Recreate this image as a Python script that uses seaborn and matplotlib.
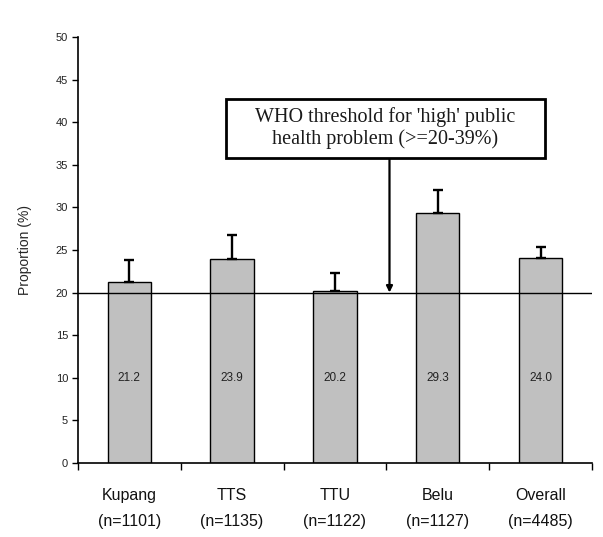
import matplotlib
matplotlib.use("Agg")
import matplotlib.pyplot as plt
from matplotlib.patches import Rectangle
import seaborn as sns
import pandas as pd
import numpy as np

# Prevalence by district with upper confidence margin
districts = ["Kupang", "TTS", "TTU", "Belu", "Overall"]
sample_sizes = [1101, 1135, 1122, 1127, 4485]
proportions = [21.2, 23.9, 20.2, 29.3, 24.0]
upper_error = [2.6, 2.8, 2.1, 2.8, 1.3]
threshold = 20
y_ticks = list(range(0, 55, 5))

labels = [f"{d}\n(n={n})" for d, n in zip(districts, sample_sizes)]
df = pd.DataFrame({"group": labels, "proportion": proportions})

sns.set_theme(style="white")
plt.rcParams["font.family"] = ["Liberation Sans", "DejaVu Sans"]

fig = plt.figure(figsize=(6.03, 5.37), dpi=100)
ax = fig.add_axes([0.129, 0.138, 0.853, 0.793])

sns.barplot(data=df, x="group", y="proportion", color="#c0c0c0",
            edgecolor="black", linewidth=1.0, width=0.42,
            saturation=1, errorbar=None, ax=ax)

# upper-only error bars
xpos = np.arange(len(proportions))
ax.errorbar(xpos, proportions, yerr=[np.zeros(len(upper_error)), upper_error],
            fmt="none", ecolor="black", elinewidth=1.7, capsize=3.5,
            capthick=1.7, zorder=3)

# value labels inside bars
for x, v in zip(xpos, proportions):
    ax.text(x, 10, f"{v:.1f}", ha="center", va="center",
            fontsize=8.5, color="#222222")

# threshold line
ax.axhline(threshold, color="black", lw=1.0, zorder=2.5)

# callout box with arrow to the threshold
ax.add_patch(Rectangle((0.94, 35.8), 3.1, 6.9, fc="white", ec="black",
                       lw=2.0, zorder=4))
ax.text(2.49, 39.3, "WHO threshold for 'high' public\nhealth problem (>=20-39%)",
        ha="center", va="center", fontsize=14.5, linespacing=1.2,
        family=["Liberation Serif", "DejaVu Serif"], color="#1a1a1a", zorder=5)
ax.annotate("", xy=(2.53, threshold), xytext=(2.53, 35.8),
            arrowprops=dict(arrowstyle="-|>", color="black", lw=1.6,
                            mutation_scale=9, shrinkA=0, shrinkB=0))

ax.set_xlim(-0.5, len(districts) - 0.5)
ax.set_ylim(0, 50)
ax.set_yticks(y_ticks)
ax.set_yticklabels([str(t) for t in y_ticks], fontsize=8, color="#222222")
ax.set_ylabel("Proportion (%)", fontsize=10, labelpad=17)
ax.set_xlabel("")

# category separators as tick marks
ax.set_xticks(np.arange(-0.5, len(districts), 1.0), minor=False)
ax.set_xticklabels([])
ax.set_xticks(xpos, minor=True)
ax.set_xticklabels(labels, minor=True, fontsize=11.5, color="#111111",
                   linespacing=1.95)
ax.tick_params(axis="x", which="major", direction="out", length=5, width=1, color="black", bottom=True)
ax.tick_params(axis="x", which="minor", length=0, pad=18)
ax.tick_params(axis="y", direction="out", length=4, width=1, color="black", left=True, pad=3)

for s in ["top", "right"]:
    ax.spines[s].set_visible(False)
for s in ["left", "bottom"]:
    ax.spines[s].set_color("black")
    ax.spines[s].set_linewidth(1.2)

fig.savefig("out.png", dpi=100)
